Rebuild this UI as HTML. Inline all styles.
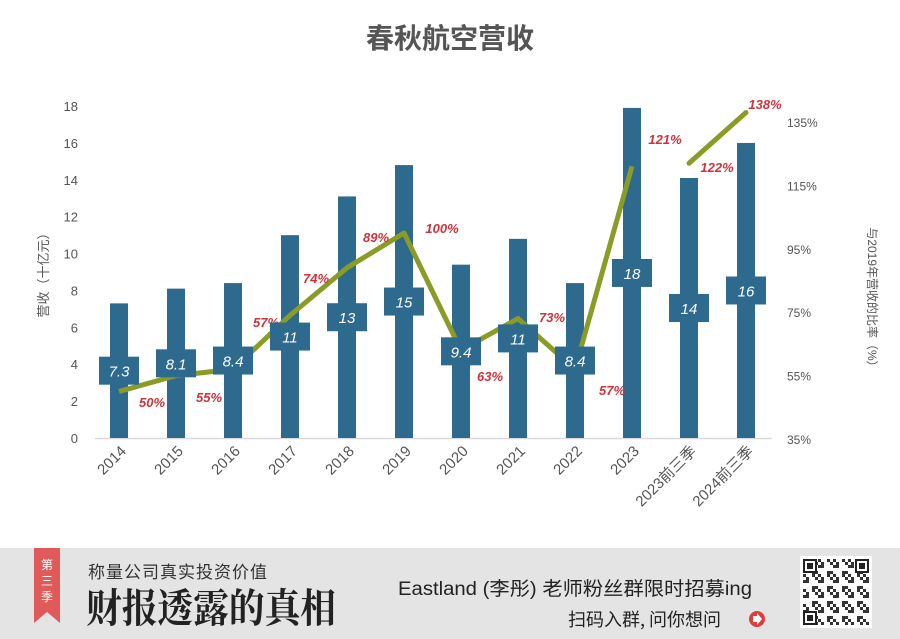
<!DOCTYPE html>
<html><head><meta charset="utf-8"><style>
body{margin:0;width:900px;height:639px;background:#fff;overflow:hidden;font-family:"Liberation Sans","Noto Sans CJK SC",sans-serif}
</style></head><body>
<svg id="s" width="900" height="639" xmlns="http://www.w3.org/2000/svg" style="position:absolute;left:0;top:0">
<rect x="0" y="0" width="900" height="639" fill="#fff"/>
<text x="450" y="48" text-anchor="middle" font-size="28" font-weight="bold" fill="#555" font-family="Liberation Sans,Noto Sans CJK SC,sans-serif">春秋航空营收</text>
<line x1="95" y1="438.5" x2="772" y2="438.5" stroke="#d9d9d9" stroke-width="1.5"/>
<g id="g"></g>
<text transform="translate(48,272) rotate(-90)" text-anchor="middle" font-size="13" fill="#555" font-family="Liberation Sans,Noto Sans CJK SC,sans-serif">营收（十亿元）</text>
<text transform="translate(868,300) rotate(90)" text-anchor="middle" font-size="12" fill="#555" font-family="Liberation Sans,Noto Sans CJK SC,sans-serif">与2019年营收的比率（%）</text>
<!-- footer -->
<rect x="0" y="548" width="900" height="91" fill="#e4e4e4"/>
<path d="M34 548 H60 V623 L47 612 L34 623 Z" fill="#e05a5a"/>
<text x="47" y="569" text-anchor="middle" font-size="12" fill="#fff" font-family="Noto Sans CJK SC,sans-serif">第</text>
<text x="47" y="585" text-anchor="middle" font-size="12" fill="#fff" font-family="Noto Sans CJK SC,sans-serif">三</text>
<text x="47" y="601" text-anchor="middle" font-size="12" fill="#fff" font-family="Noto Sans CJK SC,sans-serif">季</text>
<text x="88" y="578" font-size="17" fill="#333" font-family="Noto Sans CJK SC,sans-serif" letter-spacing="1">称量公司真实投资价值</text>
<text x="86" y="622" font-size="40" font-weight="bold" fill="#222" font-family="Noto Serif CJK SC,serif" textLength="250" lengthAdjust="spacingAndGlyphs">财报透露的真相</text>
<text x="398" y="595" font-size="19" fill="#222" font-family="Liberation Sans,Noto Sans CJK SC,sans-serif" textLength="354" lengthAdjust="spacingAndGlyphs">Eastland (李彤) 老师粉丝群限时招募ing</text>
<text x="568" y="626" font-size="18" fill="#222" font-family="Noto Sans CJK SC,sans-serif">扫码入群, 问你想问</text>
<circle cx="757" cy="619" r="8" fill="#e03c3c"/>
<path d="M753 616 h4 v-3 l5 6 l-5 6 v-3 h-4 z" fill="#fff"/>
<rect x="800" y="556" width="72" height="72" fill="#fff"/>
<g id="qr"></g>
</svg>
<script>
const NS="http://www.w3.org/2000/svg",g=document.getElementById('g');
function el(t,a,txt){const e=document.createElementNS(NS,t);for(const k in a)e.setAttribute(k,a[k]);if(txt!==undefined)e.textContent=txt;g.appendChild(e);return e;}
const F="Liberation Sans,Noto Sans CJK SC,sans-serif";
const y0=438,u=18.44;
for(let v=0;v<=18;v+=2)el('text',{x:78,y:y0-v*u+5,'text-anchor':'end','font-size':13,fill:'#555','font-family':F},v);
[35,55,75,95,115,135].forEach(p=>el('text',{x:787,y:439-(p-35)*3.17+5,'font-size':12,fill:'#555','font-family':F},p+'%'));
const labs=['2014','2015','2016','2017','2018','2019','2020','2021','2022','2023','2023前三季','2024前三季'];
const vals=[7.3,8.1,8.4,11,13.1,14.8,9.4,10.8,8.4,17.9,14.1,16];
const vl=['7.3','8.1','8.4','11','13','15','9.4','11','8.4','18','14','16'];
const pct=[50,55,57,74,89,100,63,73,57,121,122,138];
const pl=[[152,402],[209,397],[266,322],[316,278],[376,237],[442,228],[490,376],[552,317],[612,390],[665,139],[717,167],[765,104]];
const X=i=>119+i*57, PY=p=>439-(p-35)*3.17;
for(let i=0;i<12;i++){el('rect',{x:X(i)-9,y:y0-vals[i]*u,width:18,height:vals[i]*u,fill:'#2e6a8e'});}
el('polyline',{points:pct.slice(0,10).map((p,i)=>X(i)+','+PY(p)).join(' '),fill:'none',stroke:'#8a9c26','stroke-width':5,'stroke-linejoin':'round'});
el('line',{x1:X(10),y1:PY(122),x2:X(11),y2:PY(138),stroke:'#8a9c26','stroke-width':5,'stroke-linecap':'round'});
for(let i=0;i<12;i++){const cy=y0-vals[i]*u/2;
el('rect',{x:X(i)-20,y:cy-14,width:40,height:28,fill:'#2e6a8e'});
el('text',{x:X(i),y:cy+6,'text-anchor':'middle','font-size':15,'font-style':'italic',fill:'#fff','font-family':F},vl[i]);
el('text',{x:pl[i][0],y:pl[i][1]+5,'text-anchor':'middle','font-size':13,'font-style':'italic','font-weight':'bold',fill:'#d0323a','font-family':F},pct[i]+'%');}
labs.forEach((l,i)=>el('text',{transform:`translate(${X(i)+8},452) rotate(-45)`,'text-anchor':'end','font-size':15,fill:'#555','font-family':F},l));
// qr
const q=document.getElementById('qr');let s=7;
function r(x,y,w,h,c){const e=document.createElementNS(NS,'rect');e.setAttribute('x',x);e.setAttribute('y',y);e.setAttribute('width',w);e.setAttribute('height',h);e.setAttribute('fill',c);q.appendChild(e);}
for(let a=0;a<22;a++)for(let b=0;b<22;b++){if(((a*7+b*13+a*b)%5)<2)r(803+a*3,559+b*3,3,3,'#333');}
[[803,559],[855,559],[803,611]].forEach(([x,y])=>{r(x,y,14,14,'#222');r(x+2,y+2,10,10,'#fff');r(x+4,y+4,6,6,'#222');});
</script>
</body></html>
